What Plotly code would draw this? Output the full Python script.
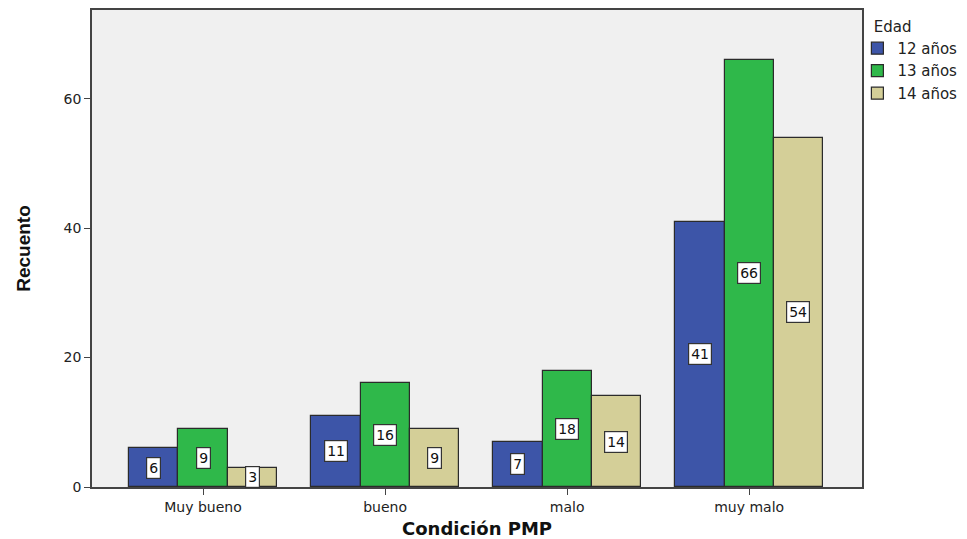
import plotly.graph_objects as go

categories = ["Muy bueno", "bueno", "malo", "muy malo"]
series_names = ["12 años", "13 años", "14 años"]
counts_12 = [6, 11, 7, 41]
counts_13 = [9, 16, 18, 66]
counts_14 = [3, 9, 14, 54]
y_ticks = [0, 20, 40, 60]

colors = ["#3d55a8", "#2fb84a", "#d4cf98"]
all_counts = [counts_12, counts_13, counts_14]

FONT = "DejaVu Sans, Verdana, sans-serif"

bar_w = 0.27
offsets = [-bar_w, 0.0, bar_w]
xs = list(range(len(categories)))

fig = go.Figure()
for name, vals, col, off in zip(series_names, all_counts, colors, offsets):
    fig.add_trace(go.Bar(
        x=[x + off for x in xs], y=vals, name=name, width=bar_w,
        marker=dict(color=col, line=dict(color="#2b2b2b", width=1.2)),
    ))
    # value labels in white boxes at the middle of each bar
    for x, v in zip(xs, vals):
        fig.add_annotation(
            x=x + off, y=v / 2, text=str(v), showarrow=False,
            font=dict(family=FONT, size=14, color="#111"),
            bgcolor="white", bordercolor="#333", borderwidth=1.2, borderpad=2,
        )

fig.update_layout(
    width=967, height=539,
    margin=dict(l=92, r=105, t=10, b=52, autoexpand=False),
    paper_bgcolor="white", plot_bgcolor="#f0f0f0",
    barmode="overlay", bargap=0,
    font=dict(family=FONT, color="#222"),
    legend=dict(
        title=dict(text="\u00a0\u00a0\u00a0Edad", font=dict(size=15)), x=0.994, y=0.995,
        xanchor="left", yanchor="top", font=dict(size=15),
        itemwidth=30, tracegroupgap=0, bgcolor="rgba(0,0,0,0)",
    ),
    showlegend=True,
)
fig.update_xaxes(
    range=[-0.61, 3.62], tickvals=xs, ticktext=categories, automargin=False,
    showgrid=False, zeroline=False, showline=True, linecolor="#444", linewidth=1.5,
    mirror=True, ticks="outside", ticklen=6, tickcolor="#444",
    tickfont=dict(size=14, color="#222"),
    title=dict(text="<b>Condición PMP</b>", font=dict(size=18, color="#111"), standoff=11),
)
fig.update_yaxes(
    range=[0, 73.7], tickvals=y_ticks, automargin=False,
    showgrid=False, zeroline=False, showline=True, linecolor="#444", linewidth=1.5,
    mirror=True, ticks="outside", ticklen=6, tickcolor="#444",
    tickfont=dict(size=14, color="#222"),
    title=dict(text="<b>Recuento</b>", font=dict(family="Liberation Sans Narrow, Liberation Sans, Arial", size=19, color="#111"), standoff=28),
)

fig.write_html("out.html")
